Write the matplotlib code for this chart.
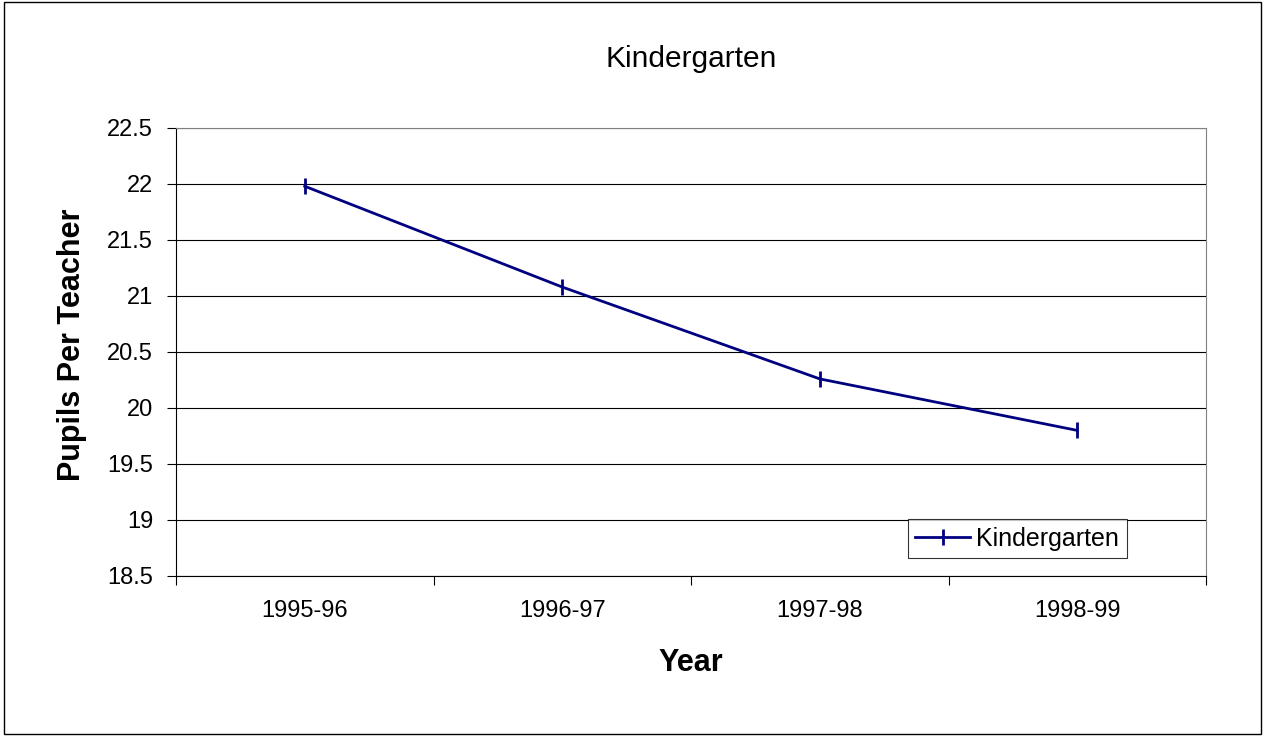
import matplotlib
matplotlib.use('Agg')
import matplotlib.pyplot as plt
from matplotlib.patches import Rectangle
from matplotlib.ticker import MultipleLocator

plt.rcParams['font.family'] = ['Liberation Sans', 'DejaVu Sans']

# data
years = ['1995-96', '1996-97', '1997-98', '1998-99']
pupils_per_teacher = [21.98, 21.08, 20.26, 19.80]
series_name = 'Kindergarten'

fig = plt.figure(figsize=(12.65, 7.36), dpi=100)
ax = fig.add_axes([176 / 1265, 160 / 736, 1030 / 1265, 448 / 736])

# outer chart border
fig.patches.append(Rectangle((0.003, 0.003), 0.994, 0.994, transform=fig.transFigure,
                             fill=False, edgecolor='black', linewidth=1.0))

x = range(len(years))
ax.plot(x, pupils_per_teacher, color='#000080', linewidth=2, marker='|',
        markersize=11, markeredgewidth=2, label=series_name)

ax.set_xlim(-0.5, len(years) - 0.5)
ax.set_ylim(18.5, 22.5)
ax.yaxis.set_major_locator(MultipleLocator(0.5))
ax.yaxis.set_major_formatter(matplotlib.ticker.FuncFormatter(lambda v, p: f'{v:g}'))
ax.grid(axis='y', color='black', linewidth=0.8)
ax.set_axisbelow(True)

ax.set_xticks(list(x))
ax.set_xticklabels(years)
ax.set_xticks([i - 0.5 for i in range(len(years) + 1)], minor=True)
ax.tick_params(axis='x', which='major', length=0, pad=17, labelsize=17)
ax.tick_params(axis='x', which='minor', length=6.5, width=0.8, direction='out')
ax.tick_params(axis='y', length=6.5, width=0.8, direction='out', labelsize=17, pad=10)

for s in ['top', 'right']:
    ax.spines[s].set_color('#808080')
for s in ['left', 'bottom']:
    ax.spines[s].set_color('black')

ax.set_title('Kindergarten', fontsize=21.5, pad=44)
ax.set_xlabel('Year', fontsize=22, fontweight='bold', labelpad=19)
ax.set_ylabel('Pupils Per Teacher', fontsize=22, fontweight='bold')
ax.yaxis.set_label_coords(-0.086, 0.516)

leg = ax.legend(loc='lower right', bbox_to_anchor=(0.923, 0.040), borderaxespad=0,
                fontsize=18, frameon=True, fancybox=False, edgecolor='black',
                handlelength=2.2, borderpad=0.3, handletextpad=0.25)
leg.get_frame().set_linewidth(0.8)

fig.savefig('out.png', dpi=100)
